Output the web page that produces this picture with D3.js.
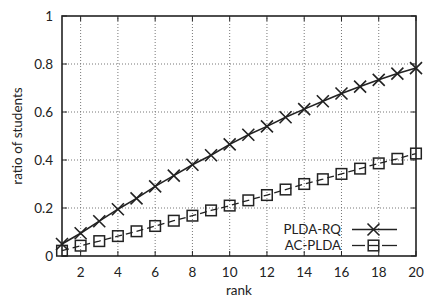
<!DOCTYPE html>
<html>
<head>
<meta charset="utf-8">
<script src="https://cdn.jsdelivr.net/npm/d3@7"></script>
<style>
  body { margin: 0; background: #fff; }
  text { font-family: Lato, "Open Sans", sans-serif; fill: #222; }
</style>
</head>
<body>
<div id="chart"></div>
<script>
const ranks = d3.range(1, 21);
const pldaRq = [0.05, 0.095, 0.145, 0.195, 0.24, 0.29, 0.335, 0.38, 0.42, 0.465,
  0.505, 0.54, 0.578, 0.612, 0.645, 0.677, 0.706, 0.734, 0.76, 0.783];
const acPlda = [0.022, 0.043, 0.062, 0.083, 0.103, 0.125, 0.147, 0.168, 0.19, 0.21,
  0.232, 0.254, 0.277, 0.3, 0.32, 0.342, 0.364, 0.386, 0.405, 0.427];
const xTicks = [2, 4, 6, 8, 10, 12, 14, 16, 18, 20];
const yTicks = [0, 0.2, 0.4, 0.6, 0.8, 1];

const width = 424, height = 297;
const margin = { top: 16, right: 8, bottom: 41, left: 62 };

const svg = d3.select("#chart").append("svg")
  .attr("width", width).attr("height", height);

const x = d3.scaleLinear().domain([1, 20]).range([margin.left, width - margin.right]);
const y = d3.scaleLinear().domain([0, 1]).range([height - margin.bottom, margin.top]);

// grid
svg.append("g").selectAll("line").data(xTicks.slice(0, -1)).enter().append("line")
  .attr("x1", d => x(d)).attr("x2", d => x(d))
  .attr("y1", y(0)).attr("y2", y(1))
  .attr("stroke", "#777").attr("stroke-width", 1).attr("stroke-dasharray", "1,2");
svg.append("g").selectAll("line").data(yTicks.slice(1, -1)).enter().append("line")
  .attr("x1", x(1)).attr("x2", x(20))
  .attr("y1", d => y(d)).attr("y2", d => y(d))
  .attr("stroke", "#777").attr("stroke-width", 1).attr("stroke-dasharray", "1,2");

// inner ticks (mirrored)
const tickLen = 5;
xTicks.forEach(t => {
  svg.append("line").attr("x1", x(t)).attr("x2", x(t)).attr("y1", y(0)).attr("y2", y(0) - tickLen).attr("stroke", "#222");
  svg.append("line").attr("x1", x(t)).attr("x2", x(t)).attr("y1", y(1)).attr("y2", y(1) + tickLen).attr("stroke", "#222");
});
yTicks.forEach(t => {
  svg.append("line").attr("x1", x(1)).attr("x2", x(1) + tickLen).attr("y1", y(t)).attr("y2", y(t)).attr("stroke", "#222");
  svg.append("line").attr("x1", x(20)).attr("x2", x(20) - tickLen).attr("y1", y(t)).attr("y2", y(t)).attr("stroke", "#222");
});

// frame
svg.append("rect")
  .attr("x", x(1)).attr("y", y(1))
  .attr("width", x(20) - x(1)).attr("height", y(0) - y(1))
  .attr("fill", "none").attr("stroke", "#222").attr("stroke-width", 1.6);

// axis labels
svg.append("g").selectAll("text").data(xTicks).enter().append("text")
  .attr("x", d => x(d)).attr("y", y(0) + 21)
  .attr("text-anchor", "middle").attr("font-size", 13.5)
  .text(d => d);
svg.append("g").selectAll("text").data(yTicks).enter().append("text")
  .attr("x", x(1) - 9).attr("y", d => y(d) + 5)
  .attr("text-anchor", "end").attr("font-size", 13.5)
  .text(d => d);
svg.append("text").attr("x", (x(1) + x(20)) / 2).attr("y", 295)
  .attr("text-anchor", "middle").attr("font-size", 13.5).text("rank");
svg.append("text")
  .attr("transform", `translate(22,${(y(0) + y(1)) / 2}) rotate(-90)`)
  .attr("text-anchor", "middle").attr("font-size", 13.5).text("ratio of students");

// series
const line = d3.line().x((d, i) => x(ranks[i])).y(d => y(d));

svg.append("path").datum(pldaRq).attr("d", line)
  .attr("fill", "none").attr("stroke", "#222").attr("stroke-width", 1.6);
svg.append("path").datum(acPlda).attr("d", line)
  .attr("fill", "none").attr("stroke", "#222").attr("stroke-width", 1.3)
  .attr("stroke-dasharray", "7,4");

function drawCross(g, cx, cy) {
  const s = 6;
  g.append("path")
    .attr("d", `M${cx - s},${cy - s}L${cx + s},${cy + s}M${cx - s},${cy + s}L${cx + s},${cy - s}`)
    .attr("stroke", "#222").attr("stroke-width", 1.6).attr("fill", "none");
}
function drawSquare(g, cx, cy) {
  const s = 5.3;
  g.append("rect").attr("x", cx - s).attr("y", cy - s).attr("width", 2 * s).attr("height", 2 * s)
    .attr("fill", "none").attr("stroke", "#222").attr("stroke-width", 1.5);
}

const marks = svg.append("g");
pldaRq.forEach((v, i) => drawCross(marks, x(ranks[i]), y(v)));
acPlda.forEach((v, i) => drawSquare(marks, x(ranks[i]), y(v)));

// legend
const lg = svg.append("g");
const legendX = 341, lineX1 = 352, lineX2 = 397, mid = 373.5;
lg.append("text").attr("x", legendX).attr("y", 234).attr("text-anchor", "end")
  .attr("font-size", 13.3).text("PLDA-RQ");
lg.append("line").attr("x1", lineX1).attr("x2", lineX2).attr("y1", 229.5).attr("y2", 229.5)
  .attr("stroke", "#222").attr("stroke-width", 1.6);
drawCross(lg, mid, 229.5);
lg.append("text").attr("x", legendX).attr("y", 250).attr("text-anchor", "end")
  .attr("font-size", 13.3).text("AC-PLDA");
[[lineX1, 365], [mid - 5, mid + 5], [382, lineX2]].forEach(([a, b]) => {
  lg.append("line").attr("x1", a).attr("x2", b).attr("y1", 245.5).attr("y2", 245.5)
    .attr("stroke", "#222").attr("stroke-width", 1.3);
});
drawSquare(lg, mid, 245.5);
</script>
</body>
</html>
